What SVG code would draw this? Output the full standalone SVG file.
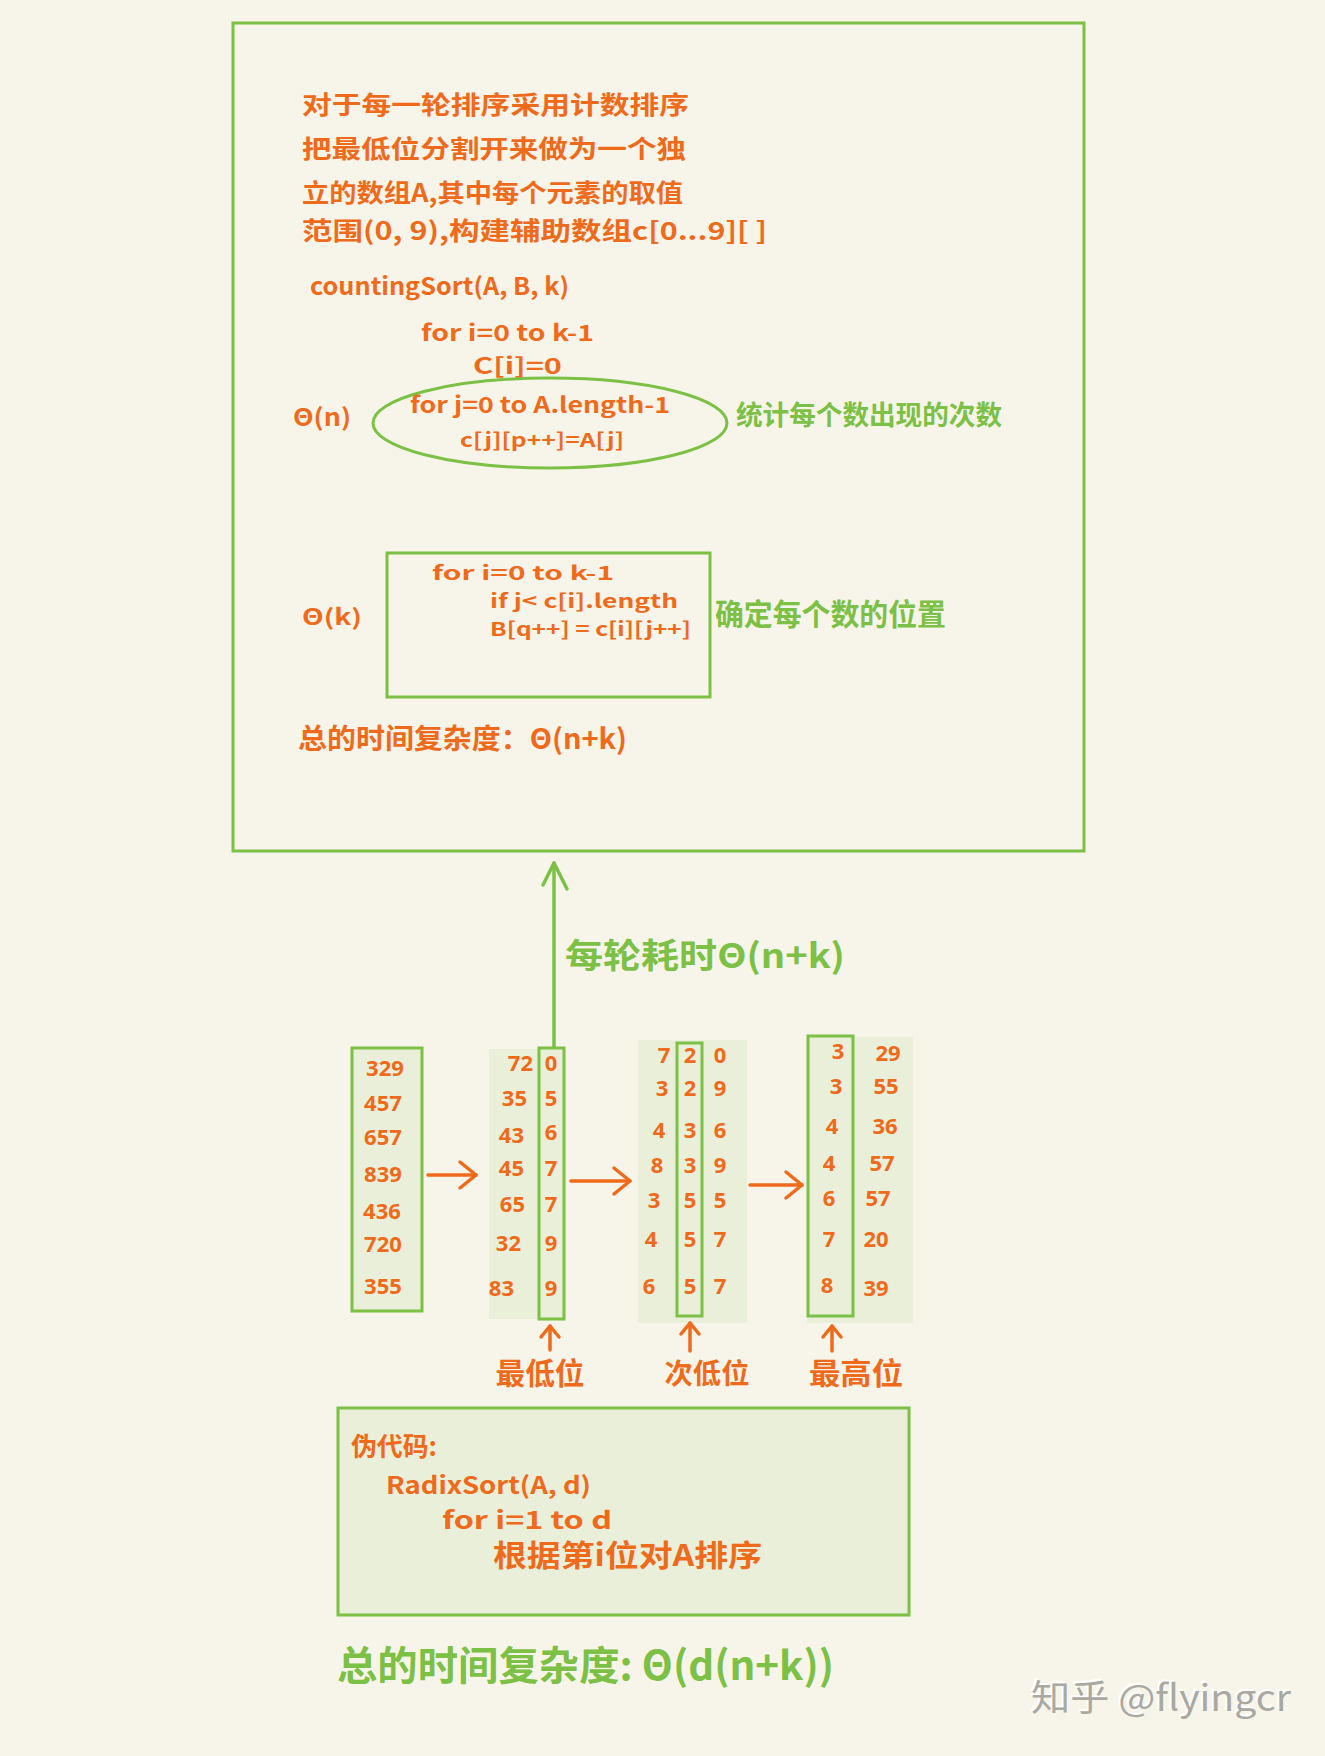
<svg xmlns="http://www.w3.org/2000/svg" width="1325" height="1756" viewBox="0 0 1325 1756">
<defs>
<style>
.o{fill:#ef6a1b;font-family:"Noto Sans CJK SC","Noto Sans",sans-serif;font-weight:700}
.g{fill:#7cc045;font-family:"Noto Sans CJK SC","Noto Sans",sans-serif;font-weight:700}
.d{fill:#ef6a1b;font-family:"Noto Sans","Liberation Sans",sans-serif;font-weight:700;font-size:22px}
.box{fill:none;stroke:#7cc045;stroke-width:3}
.fbox{fill:#e9efd9;stroke:#7cc045;stroke-width:3}
.shade{fill:#e9efd9}
.ao{fill:none;stroke:#ef6a1b;stroke-width:3.5;stroke-linecap:round}
.ag{fill:none;stroke:#7cc045;stroke-width:3.5;stroke-linecap:round}
.wm{font-family:"Noto Sans CJK SC","Noto Sans",sans-serif;font-size:36px}
</style>
<marker id="ho" viewBox="-22 -16 26 32" refX="0" refY="0" markerWidth="26" markerHeight="32" orient="auto" markerUnits="userSpaceOnUse">
<path d="M-16,-13 L0,0 L-16,13" fill="none" stroke="#ef6a1b" stroke-width="3.5" stroke-linecap="round" stroke-linejoin="round"/>
</marker>
<marker id="hos" viewBox="-16 -12 20 24" refX="0" refY="0" markerWidth="20" markerHeight="24" orient="auto" markerUnits="userSpaceOnUse">
<path d="M-11,-9 L0,0 L-11,9" fill="none" stroke="#ef6a1b" stroke-width="3.5" stroke-linecap="round" stroke-linejoin="round"/>
</marker>
<marker id="hg" viewBox="-30 -16 34 32" refX="0" refY="0" markerWidth="34" markerHeight="32" orient="auto" markerUnits="userSpaceOnUse">
<path d="M-22,-11 L0,0 L-26,13" fill="none" stroke="#7cc045" stroke-width="3.5" stroke-linecap="round" stroke-linejoin="round"/>
</marker>
</defs>
<rect x="0" y="0" width="1325" height="1756" fill="#f7f5e9"/>

<g id="counting-sort-box">
<rect class="box" x="233" y="23" width="851" height="828"/>
<text class="o" x="302" y="114" font-size="25" textLength="387" lengthAdjust="spacingAndGlyphs">对于每一轮排序采用计数排序</text>
<text class="o" x="302" y="158" font-size="25" textLength="384" lengthAdjust="spacingAndGlyphs">把最低位分割开来做为一个独</text>
<text class="o" x="302" y="202" font-size="25" textLength="381" lengthAdjust="spacingAndGlyphs">立的数组A,其中每个元素的取值</text>
<text class="o" x="302" y="240" font-size="25" textLength="465" lengthAdjust="spacingAndGlyphs">范围(0, 9),构建辅助数组c[0...9][ ]</text>
<text class="o" x="310" y="295" font-size="24" textLength="259" lengthAdjust="spacingAndGlyphs">countingSort(A, B, k)</text>
<text class="o" x="421" y="341" font-size="22" textLength="173" lengthAdjust="spacingAndGlyphs">for i=0 to k-1</text>
<text class="o" x="473" y="374" font-size="22" textLength="89" lengthAdjust="spacingAndGlyphs">C[i]=0</text>
<text class="o" x="293" y="426" font-size="24" textLength="58" lengthAdjust="spacingAndGlyphs">Θ(n)</text>
</g>

<g id="count-loop-ellipse">
<ellipse cx="550" cy="423" rx="177" ry="45" fill="none" stroke="#7cc045" stroke-width="3"/>
<text class="o" x="410" y="413" font-size="22" textLength="260" lengthAdjust="spacingAndGlyphs">for j=0 to A.length-1</text>
<text class="o" x="460" y="447" font-size="19" textLength="164" lengthAdjust="spacingAndGlyphs">c[j][p++]=A[j]</text>
<text class="g" x="736" y="425" font-size="27" textLength="266" lengthAdjust="spacingAndGlyphs">统计每个数出现的次数</text>
</g>

<g id="position-box">
<rect class="box" x="387" y="553" width="323" height="144"/>
<text class="o" x="432" y="580" font-size="19" textLength="182" lengthAdjust="spacingAndGlyphs">for i=0 to k-1</text>
<text class="o" x="490" y="608" font-size="19" textLength="188" lengthAdjust="spacingAndGlyphs">if j&lt; c[i].length</text>
<text class="o" x="490" y="636" font-size="19" textLength="201" lengthAdjust="spacingAndGlyphs">B[q++] = c[i][j++]</text>
<text class="o" x="302" y="625" font-size="22" textLength="60" lengthAdjust="spacingAndGlyphs">Θ(k)</text>
<text class="g" x="715" y="625" font-size="30" textLength="231" lengthAdjust="spacingAndGlyphs">确定每个数的位置</text>
</g>

<g id="counting-total">
<text class="o" x="298" y="749" font-size="28" textLength="329" lengthAdjust="spacingAndGlyphs">总的时间复杂度：Θ(n+k)</text>
</g>

<g id="round-cost-label">
<text class="g" x="565" y="968" font-size="34" textLength="280" lengthAdjust="spacingAndGlyphs">每轮耗时Θ(n+k)</text>
</g>

<g id="input-column">
<rect class="fbox" x="352" y="1048" width="70" height="263"/>
<g class="d" text-anchor="middle">
<text x="385" y="1076">329</text>
<text x="383" y="1111">457</text>
<text x="383" y="1145">657</text>
<text x="383" y="1182">839</text>
<text x="382" y="1219">436</text>
<text x="383" y="1252">720</text>
<text x="383" y="1294">355</text>
</g>
</g>

<g id="pass1-column">
<rect class="shade" x="489" y="1049" width="75" height="270"/>
<rect class="box" x="539" y="1048" width="25" height="271"/>
<g class="d" text-anchor="end">
<text x="533" y="1071">72</text>
<text x="527" y="1106">35</text>
<text x="524" y="1143">43</text>
<text x="524" y="1176">45</text>
<text x="525" y="1212">65</text>
<text x="521" y="1251">32</text>
<text x="514" y="1296">83</text>
</g>
<g class="d" text-anchor="middle">
<text x="551" y="1071">0</text>
<text x="551" y="1106">5</text>
<text x="551" y="1140">6</text>
<text x="551" y="1176">7</text>
<text x="551" y="1212">7</text>
<text x="551" y="1251">9</text>
<text x="551" y="1296">9</text>
</g>
</g>

<g id="pass2-column">
<rect class="shade" x="638" y="1040" width="109" height="283"/>
<rect class="box" x="677" y="1043" width="25" height="273"/>
<g class="d" text-anchor="middle">
<text x="664" y="1063">7</text>
<text x="662" y="1096">3</text>
<text x="659" y="1138">4</text>
<text x="657" y="1173">8</text>
<text x="654" y="1208">3</text>
<text x="651" y="1247">4</text>
<text x="649" y="1294">6</text>
<text x="690" y="1063">2</text>
<text x="690" y="1096">2</text>
<text x="690" y="1138">3</text>
<text x="690" y="1173">3</text>
<text x="690" y="1208">5</text>
<text x="690" y="1247">5</text>
<text x="690" y="1294">5</text>
<text x="720" y="1063">0</text>
<text x="720" y="1096">9</text>
<text x="720" y="1138">6</text>
<text x="720" y="1173">9</text>
<text x="720" y="1208">5</text>
<text x="720" y="1247">7</text>
<text x="720" y="1294">7</text>
</g>
</g>

<g id="pass3-column">
<rect class="shade" x="807" y="1037" width="106" height="286"/>
<rect class="box" x="808" y="1036" width="45" height="280"/>
<g class="d" text-anchor="middle">
<text x="838" y="1059">3</text>
<text x="836" y="1094">3</text>
<text x="832" y="1134">4</text>
<text x="829" y="1171">4</text>
<text x="829" y="1206">6</text>
<text x="829" y="1247">7</text>
<text x="827" y="1293">8</text>
<text x="888" y="1061">29</text>
<text x="886" y="1094">55</text>
<text x="885" y="1134">36</text>
<text x="882" y="1171">57</text>
<text x="878" y="1206">57</text>
<text x="876" y="1247">20</text>
<text x="876" y="1296">39</text>
</g>
</g>

<g id="digit-labels">
<text class="o" x="540" y="1384" font-size="30" text-anchor="middle" textLength="89" lengthAdjust="spacingAndGlyphs">最低位</text>
<text class="o" x="707" y="1384" font-size="28" text-anchor="middle" textLength="85" lengthAdjust="spacingAndGlyphs">次低位</text>
<text class="o" x="856" y="1384" font-size="30" text-anchor="middle" textLength="94" lengthAdjust="spacingAndGlyphs">最高位</text>
</g>

<g id="pseudocode-box">
<rect class="fbox" x="338" y="1408" width="571" height="207"/>
<text class="o" x="351" y="1456" font-size="26" textLength="86" lengthAdjust="spacingAndGlyphs">伪代码:</text>
<text class="o" x="386" y="1494" font-size="24" textLength="205" lengthAdjust="spacingAndGlyphs">RadixSort(A, d)</text>
<text class="o" x="442" y="1529" font-size="24" textLength="170" lengthAdjust="spacingAndGlyphs">for i=1 to d</text>
<text class="o" x="493" y="1566" font-size="30" textLength="269" lengthAdjust="spacingAndGlyphs">根据第i位对A排序</text>
</g>

<g id="radix-total">
<text class="g" x="337" y="1680" font-size="40" textLength="497" lengthAdjust="spacingAndGlyphs">总的时间复杂度: Θ(d(n+k))</text>
</g>

<g id="watermark">
<text class="wm" x="1029" y="1709" fill="#ffffff" textLength="260" lengthAdjust="spacingAndGlyphs">知乎 @flyingcr</text>
<text class="wm" x="1031" y="1711" fill="#a9a9a2" textLength="260" lengthAdjust="spacingAndGlyphs">知乎 @flyingcr</text>
</g>

<g id="connectors">
<line class="ag" x1="554" y1="1047" x2="554" y2="863" marker-end="url(#hg)"/>
<line class="ao" x1="428" y1="1175" x2="476" y2="1175" marker-end="url(#ho)"/>
<line class="ao" x1="571" y1="1181" x2="630" y2="1181" marker-end="url(#ho)"/>
<line class="ao" x1="750" y1="1185" x2="802" y2="1185" marker-end="url(#ho)"/>
<line class="ao" x1="550" y1="1350" x2="550" y2="1326" marker-end="url(#hos)"/>
<line class="ao" x1="690" y1="1351" x2="690" y2="1323" marker-end="url(#hos)"/>
<line class="ao" x1="832" y1="1351" x2="832" y2="1326" marker-end="url(#hos)"/>
</g>
</svg>
